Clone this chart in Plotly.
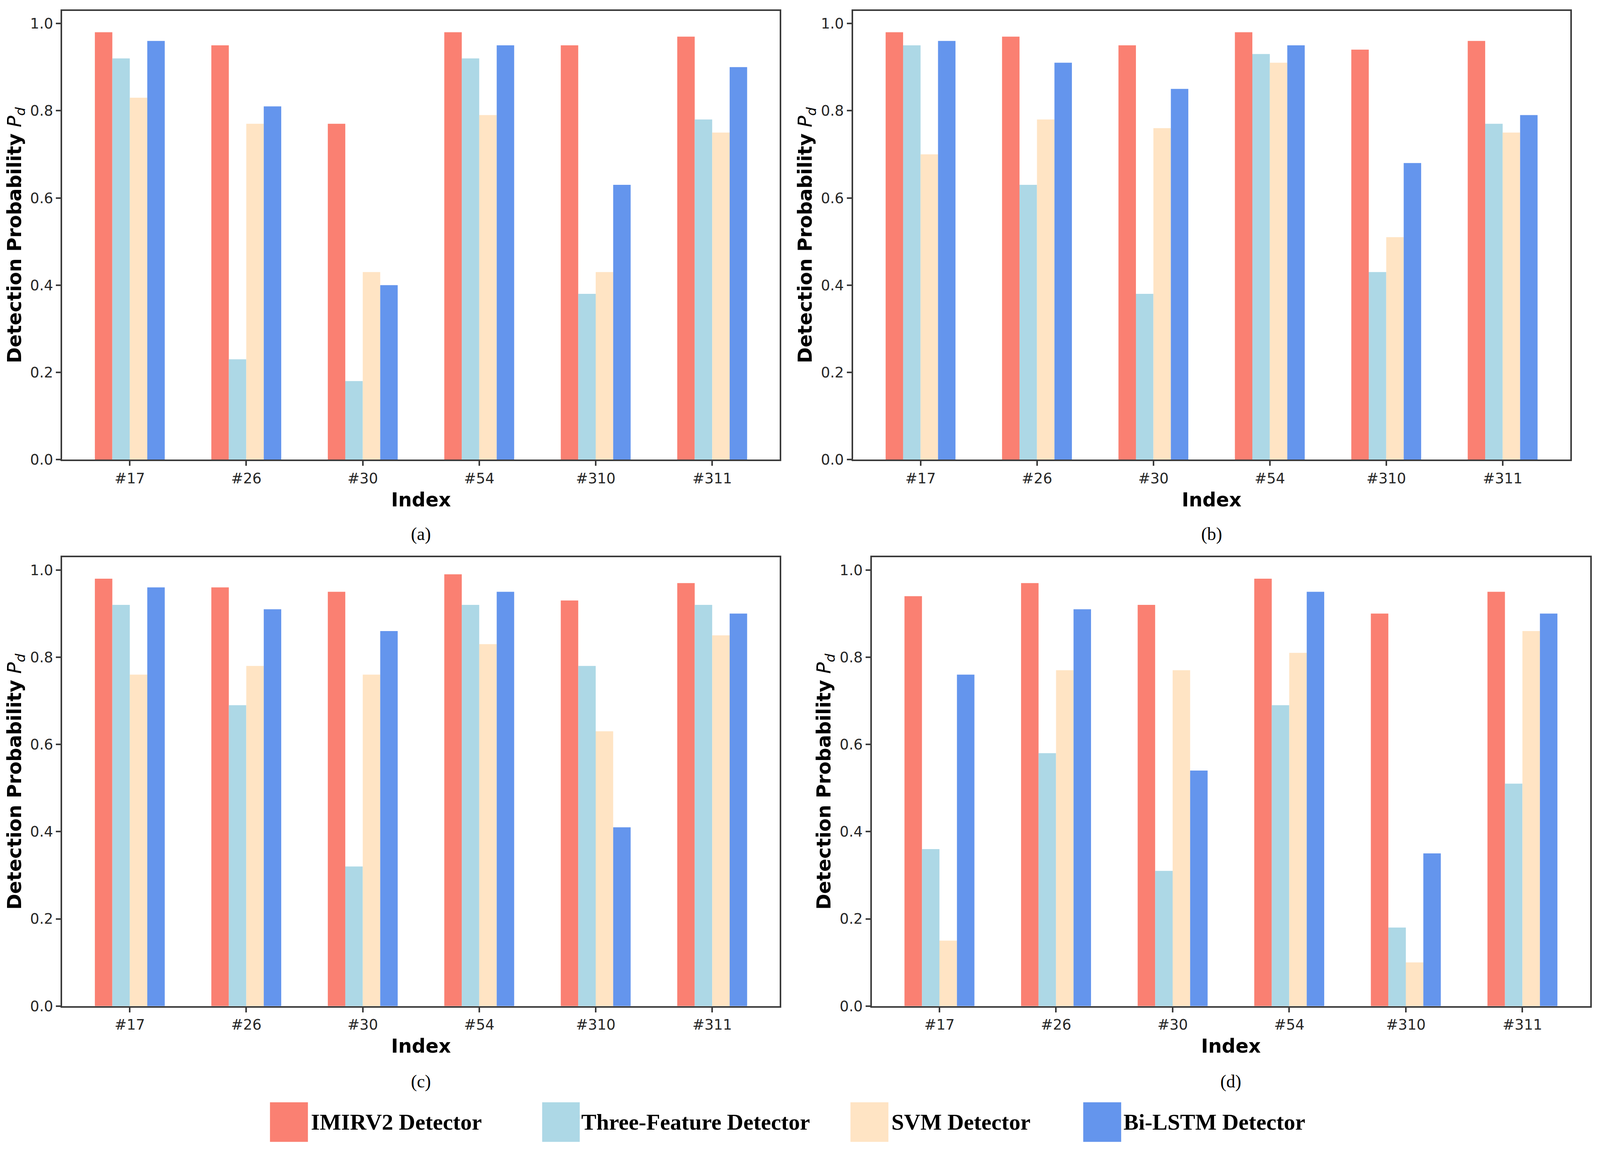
import plotly.graph_objects as go

# ---------------- data ----------------
categories = ["#17", "#26", "#30", "#54", "#310", "#311"]
series_names = ["IMIRV2 Detector", "Three-Feature Detector", "SVM Detector", "Bi-LSTM Detector"]
series_colors = ["#FA8072", "#ADD8E6", "#FFE4C4", "#6495ED"]
panel_labels = ["(a)", "(b)", "(c)", "(d)"]
y_tick_values = [0.0, 0.2, 0.4, 0.6, 0.8, 1.0]
y_tick_labels = ["0.0", "0.2", "0.4", "0.6", "0.8", "1.0"]

# panel (a)
a_imirv2 = [0.98, 0.95, 0.77, 0.98, 0.95, 0.97]
a_three = [0.92, 0.23, 0.18, 0.92, 0.38, 0.78]
a_svm = [0.83, 0.77, 0.43, 0.79, 0.43, 0.75]
a_bilstm = [0.96, 0.81, 0.40, 0.95, 0.63, 0.90]
# panel (b)
b_imirv2 = [0.98, 0.97, 0.95, 0.98, 0.94, 0.96]
b_three = [0.95, 0.63, 0.38, 0.93, 0.43, 0.77]
b_svm = [0.70, 0.78, 0.76, 0.91, 0.51, 0.75]
b_bilstm = [0.96, 0.91, 0.85, 0.95, 0.68, 0.79]
# panel (c)
c_imirv2 = [0.98, 0.96, 0.95, 0.99, 0.93, 0.97]
c_three = [0.92, 0.69, 0.32, 0.92, 0.78, 0.92]
c_svm = [0.76, 0.78, 0.76, 0.83, 0.63, 0.85]
c_bilstm = [0.96, 0.91, 0.86, 0.95, 0.41, 0.90]
# panel (d)
d_imirv2 = [0.94, 0.97, 0.92, 0.98, 0.90, 0.95]
d_three = [0.36, 0.58, 0.31, 0.69, 0.18, 0.51]
d_svm = [0.15, 0.77, 0.77, 0.81, 0.10, 0.86]
d_bilstm = [0.76, 0.91, 0.54, 0.95, 0.35, 0.90]

panels = [
    [a_imirv2, a_three, a_svm, a_bilstm],
    [b_imirv2, b_three, b_svm, b_bilstm],
    [c_imirv2, c_three, c_svm, c_bilstm],
    [d_imirv2, d_three, d_svm, d_bilstm],
]

# ---------------- layout geometry (pixels of the 4344 x 2961 reference) ----------------
W, H = 4344, 2961
axes_px = [  # left, right, top, bottom
    (169, 2117, 28, 1185),
    (2316, 4263, 28, 1185),
    (169, 2117, 1437, 2594),
    (2367, 4317, 1437, 2594),
]
label_y_px = [1377, 1377, 2788, 2788]
legend_swatch_px = [(733, 836), (1472, 1574), (2309, 2412), (2941, 3044)]
legend_text_x_px = [842, 1576, 2418, 3048]
legend_y_px = (2842, 2944)

AXIS_COLOR = "#3a3a3a"
TICK_FONT = dict(family="DejaVu Sans", size=37, color="#262626")
TITLE_FONT = dict(family="DejaVu Sans", size=49, color="#000000")

fig = go.Figure()

for p, panel in enumerate(panels):
    suffix = "" if p == 0 else str(p + 1)
    for s, vals in enumerate(panel):
        fig.add_trace(go.Bar(
            x=categories, y=vals, name=series_names[s],
            marker=dict(color=series_colors[s], line=dict(width=0)),
            xaxis="x" + suffix, yaxis="y" + suffix,
            showlegend=False, offsetgroup=str(s),
        ))
    l, r, t, b = axes_px[p]
    xdom = [l / W, r / W]
    ydom = [1 - b / H, 1 - t / H]
    fig.layout["xaxis" + suffix] = dict(
        domain=xdom, anchor="y" + suffix, type="category",
        range=[-0.58, 5.58],
        showline=True, linecolor=AXIS_COLOR, linewidth=4, mirror=True,
        ticks="outside", ticklen=12, tickwidth=4, tickcolor=AXIS_COLOR,
        tickfont=TICK_FONT, showgrid=False, zeroline=False,
        title=dict(text="<b>Index</b>", font=TITLE_FONT, standoff=18),
    )
    fig.layout["yaxis" + suffix] = dict(
        domain=ydom, anchor="x" + suffix,
        range=[0, 1.029],
        tickvals=y_tick_values, ticktext=y_tick_labels,
        showline=True, linecolor=AXIS_COLOR, linewidth=4, mirror=True,
        ticks="outside", ticklen=12, tickwidth=4, tickcolor=AXIS_COLOR,
        tickfont=TICK_FONT, showgrid=False, zeroline=False,
        title=dict(text="<b>Detection Probability</b> <i>P</i><sub><i>d</i></sub>",
                   font=TITLE_FONT, standoff=8),
    )
    fig.add_annotation(
        text=panel_labels[p], xref="paper", yref="paper",
        x=(xdom[0] + xdom[1]) / 2, y=1 - label_y_px[p] / H,
        xanchor="center", yanchor="middle", showarrow=False,
        font=dict(family="Liberation Serif", size=46, color="#000000"),
    )

# legend drawn below the panels
for s, name in enumerate(series_names):
    x0, x1 = legend_swatch_px[s]
    fig.add_shape(type="rect", xref="paper", yref="paper",
                  x0=x0 / W, x1=x1 / W,
                  y0=1 - legend_y_px[1] / H, y1=1 - legend_y_px[0] / H,
                  fillcolor=series_colors[s], line=dict(width=0))
    fig.add_annotation(
        text="<b>" + name + "</b>", xref="paper", yref="paper",
        x=legend_text_x_px[s] / W, y=1 - (legend_y_px[0] + legend_y_px[1]) / 2 / H,
        xanchor="left", yanchor="middle", showarrow=False,
        font=dict(family="Liberation Serif", size=58, color="#000000"),
    )

fig.update_layout(
    autosize=True,
    margin=dict(l=0, r=0, t=0, b=0),
    paper_bgcolor="white", plot_bgcolor="white",
    barmode="group", bargap=0.4, bargroupgap=0,
    showlegend=False,
)

# let the figure fill the whole viewport (no body margin, no scrollbars)
fit_js = (
    "document.documentElement.style.overflow='hidden';"
    "document.body.style.margin='0';document.body.style.overflow='hidden';"
    "var gd=document.getElementById('{plot_id}');"
    "gd.style.width='100vw';gd.style.height='100vh';"
    "Plotly.Plots.resize(gd);"
)

fig.write_html("out.html", post_script=fit_js,
               default_width="100vw", default_height="100vh",
               config={"displayModeBar": False, "responsive": True})
